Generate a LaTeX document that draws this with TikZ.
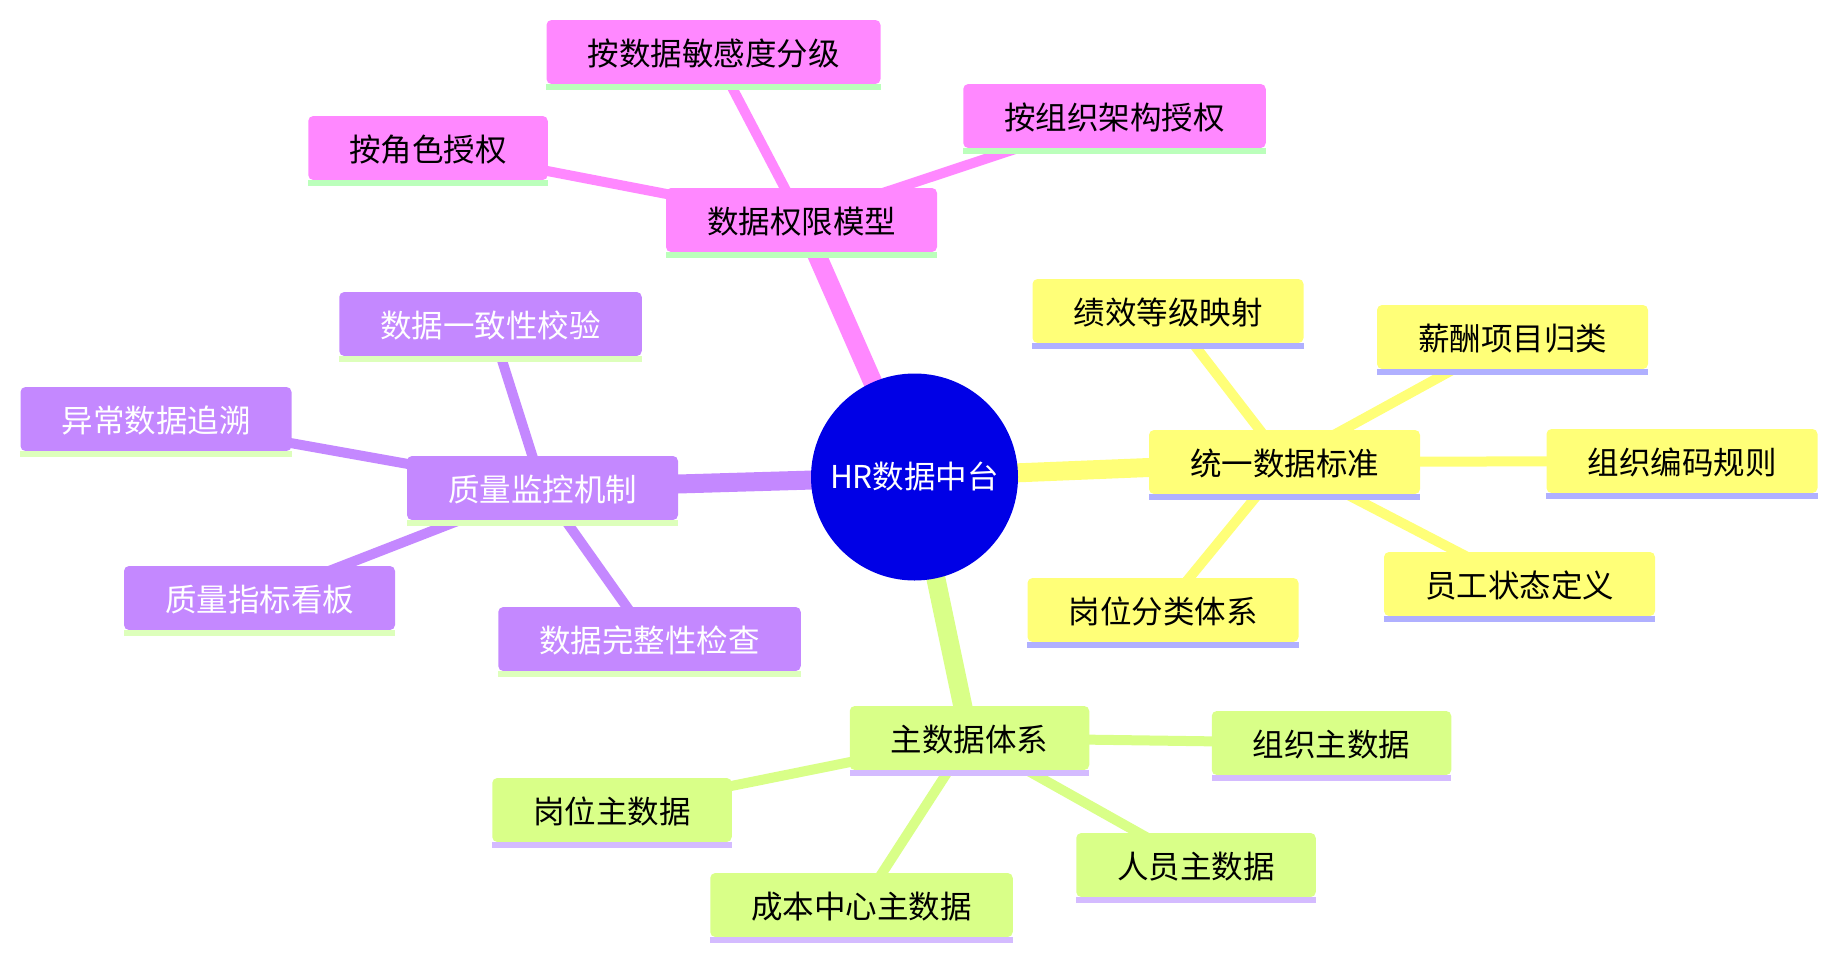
\documentclass[tikz,border=0pt]{standalone}
\usepackage{fontspec}
\setmainfont{Noto Sans CJK SC}
\usetikzlibrary{backgrounds}
\definecolor{pinkF}{HTML}{FF88FF}
\definecolor{pinkU}{HTML}{BBFFBB}
\definecolor{purpF}{HTML}{C488FF}
\definecolor{purpU}{HTML}{DDFFBB}
\definecolor{yelF}{HTML}{FFFF78}
\definecolor{yelU}{HTML}{B0B0FF}
\definecolor{grnF}{HTML}{D9FF88}
\definecolor{grnU}{HTML}{D4BBFF}
\definecolor{rootF}{HTML}{0000E6}
\tikzset{
  box/.style={rounded corners=5pt, minimum height=64pt, inner xsep=41pt, inner ysep=0pt,
    text height=27pt, text depth=1pt, font=\fontsize{31.5}{36}\selectfont, anchor=center},
  pinkbox/.style={box, fill=pinkF, text=black},
  purpbox/.style={box, fill=purpF, text=white},
  yelbox/.style={box, fill=yelF, text=black},
  grnbox/.style={box, fill=grnF, text=black},
  rootedge/.style={line width=19pt},
  childedge/.style={line width=10pt},
}
\newcommand{\ul}[2]{\fill[#2] (#1.south west) rectangle ([yshift=-6pt]#1.south east);}
\begin{document}
\begin{tikzpicture}[x=1pt,y=-1pt]
\useasboundingbox (0,0) rectangle (1837,959);
% root
\node[circle, fill=rootF, minimum size=207pt, inner sep=0pt, text=white,
  font=\fontsize{31.5}{36}\selectfont] (root) at (914.5,477) {HR数据中台};
% pink
\node[pinkbox] (p) at (801.5,220) {数据权限模型};
\node[pinkbox] (p1) at (713.5,52) {按数据敏感度分级};
\node[pinkbox] (p2) at (1114.5,116) {按组织架构授权};
\node[pinkbox] (p3) at (428,148) {按角色授权};
% yellow
\node[yelbox] (y) at (1284.5,462) {统一数据标准};
\node[yelbox] (y1) at (1168,311) {绩效等级映射};
\node[yelbox] (y2) at (1512.5,337) {薪酬项目归类};
\node[yelbox] (y3) at (1682,461) {组织编码规则};
\node[yelbox] (y4) at (1519.5,584) {员工状态定义};
\node[yelbox] (y5) at (1163,610) {岗位分类体系};
% green
\node[grnbox] (g) at (969.5,738) {主数据体系};
\node[grnbox] (g1) at (1331.5,743) {组织主数据};
\node[grnbox] (g2) at (612,810) {岗位主数据};
\node[grnbox] (g3) at (861.5,905) {成本中心主数据};
\node[grnbox] (g4) at (1196,865) {人员主数据};
% purple
\node[purpbox] (q) at (542.5,488) {质量监控机制};
\node[purpbox] (q1) at (490.5,324) {数据一致性校验};
\node[purpbox] (q2) at (156,419) {异常数据追溯};
\node[purpbox] (q3) at (259.5,598) {质量指标看板};
\node[purpbox] (q4) at (649.5,639) {数据完整性检查};
% underlines
\ul{p}{pinkU}\ul{p1}{pinkU}\ul{p2}{pinkU}\ul{p3}{pinkU}
\ul{y}{yelU}\ul{y1}{yelU}\ul{y2}{yelU}\ul{y3}{yelU}\ul{y4}{yelU}\ul{y5}{yelU}
\ul{g}{grnU}\ul{g1}{grnU}\ul{g2}{grnU}\ul{g3}{grnU}\ul{g4}{grnU}
\ul{q}{purpU}\ul{q1}{purpU}\ul{q2}{purpU}\ul{q3}{purpU}\ul{q4}{purpU}
\begin{scope}[on background layer]
\draw[rootedge, pinkF] (root.center) -- (p.center);
\draw[rootedge, yelF] (root.center) -- (y.center);
\draw[rootedge, grnF] (root.center) -- (g.center);
\draw[rootedge, purpF] (root.center) -- (q.center);
\foreach \c in {p1,p2,p3} \draw[childedge, pinkF] (p.center) -- (\c.center);
\foreach \c in {y1,y2,y3,y4,y5} \draw[childedge, yelF] (y.center) -- (\c.center);
\foreach \c in {g1,g2,g3,g4} \draw[childedge, grnF] (g.center) -- (\c.center);
\foreach \c in {q1,q2,q3,q4} \draw[childedge, purpF] (q.center) -- (\c.center);
\end{scope}
\end{tikzpicture}
\end{document}
